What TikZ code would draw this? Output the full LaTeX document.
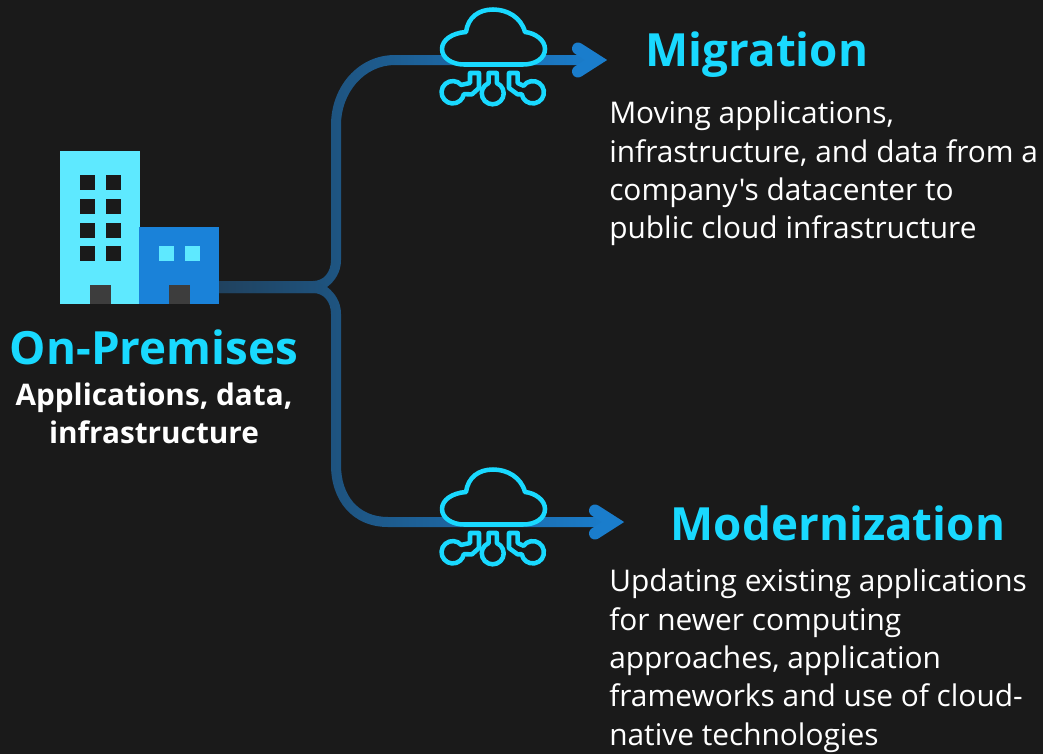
\documentclass[tikz,border=0pt]{standalone}
\usepackage{fontspec}
\setmainfont{Open Sans}[Ligatures=TeXOff]
\definecolor{pagebg}{HTML}{1A1A1A}
\definecolor{towercyan}{HTML}{5EE9FF}
\definecolor{officeblue}{HTML}{1A82D9}
\definecolor{doorgrey}{HTML}{3D3D3D}
\definecolor{headcyan}{HTML}{19D9FF}
\definecolor{stemblue}{HTML}{20425F}
\definecolor{arrowblue}{HTML}{1A7DCC}
\tikzset{
  headtext/.style={anchor=base,inner sep=0.75pt,text=headcyan,font=\fontsize{34.3}{40}\selectfont\bfseries},
  bodytext/.style={anchor=north west,inner sep=0.75pt,align=left,text=white,font=\fontsize{22.4}{28.7}\selectfont},
  subtext/.style={anchor=center,inner sep=0.75pt,align=center,text=white,font=\fontsize{22.3}{28.5}\selectfont\bfseries},
  arrowhead/.style={draw=arrowblue,line width=9pt,line cap=round,miter limit=10},
  iconline/.style={draw=headcyan,line width=3.4pt,line join=round},
}

\begin{document}
\begin{tikzpicture}[x=0.75pt,y=0.75pt,yscale=-1,xscale=1]

%Shape: Rectangle [background]
\fill [pagebg] (0,0) rectangle (1043,754) ;
\useasboundingbox (0,0) rectangle (1043,754) ;

%Shape: Polygon [upper branch]
\shade [left color=stemblue,right color=arrowblue] (219,281) -- (313,281) .. controls (324,281) and (331,272) .. (331,260) -- (331,125) .. controls (331,87) and (358,55) .. (395,55) -- (595,55) -- (595,65) -- (395,65) .. controls (364,65) and (341,93) .. (341,125) -- (341,260) .. controls (341,272) and (335,281) .. (327,287) -- (315,293) -- (219,293) -- cycle ;
%Shape: Polygon [lower branch]
\shade [left color=stemblue,right color=arrowblue] (219,281) -- (315,281) -- (327,287) .. controls (335,293) and (341,302) .. (341,314) -- (341,465) .. controls (341,495) and (358,517) .. (388,517) -- (612,517) -- (612,527) -- (388,527) .. controls (352,527) and (331,500) .. (331,465) -- (331,314) .. controls (331,302) and (324,293) .. (313,293) -- (219,293) -- cycle ;

\coordinate (upperback1) at (578,48.5) ;
\coordinate (uppertip) at (596,60) ;
\coordinate (upperback2) at (578,71.5) ;
\coordinate (lowerback1) at (595,510.5) ;
\coordinate (lowertip) at (613,522) ;
\coordinate (lowerback2) at (595,533.5) ;
%Arrow heads
\draw [arrowhead] (upperback1) -- (uppertip) -- (upperback2) ;
\draw [arrowhead] (lowerback1) -- (lowertip) -- (lowerback2) ;

%Clouds
\foreach \dy in {0,460} {
\begin{scope}[shift={(0,\dy)}]
  %Shape: Cloud
  \draw[iconline,fill=pagebg] (464,64.5) -- (523,64.5) .. controls (536,64.5) and (545,58) .. (545,49) .. controls (545,40) and (535,33) .. (525,32) .. controls (521,17) and (507,9.5) .. (493,9.5) .. controls (479,9.5) and (468,17) .. (466,32) .. controls (452,33) and (442,40) .. (442,49) .. controls (442,58) and (452,64.5) .. (464,64.5) -- cycle ;
  %Shape: Left circuit
  \draw[iconline] (470,73) -- (470,83) -- (461.2,84.9) arc [start angle=-41,delta angle=-309,radius=11.2] -- (472,94.3) -- (479,88) -- (479,73) -- cycle ;
  %Shape: Middle circuit
  \draw[iconline] (488.6,73) -- (488.6,83.1) arc [start angle=-112,delta angle=-316,radius=11] -- (496.8,73) -- cycle ;
  %Shape: Right circuit
  \draw[iconline] (509,73) -- (509,88) -- (517.5,94.3) -- (521.7,94.2) arc [start angle=170,delta angle=-315,radius=11.2] -- (517.7,83) -- (517.7,73) -- cycle ;
\end{scope}
}

%Shape: Rectangle [tower]
\fill [towercyan] (60,151) rectangle (140,304) ;
%Shape: Rectangle [office]
\fill [officeblue] (139,227) rectangle (219,304) ;
%Windows
\foreach \y in {175,199,223,246} {
  \fill [pagebg] (80,\y) rectangle +(15,15) ;
  \fill [pagebg] (106,\y) rectangle +(15,15) ;
}
\fill [towercyan] (159,246) rectangle +(15,15) ;
\fill [towercyan] (185,246) rectangle +(15,15) ;
%Doors
\fill [doorgrey] (90,285) rectangle (111,304) ;
\fill [doorgrey] (169,285) rectangle (190,304) ;

% Text Node
\draw (757,66) node (migration) [headtext] {Migration};
% Text Node
\draw (608,100) node (migrationtext) [bodytext] {Moving applications,\\infrastructure, and data from a\\company's datacenter to\\public cloud infrastructure};
% Text Node
\draw (838,540) node (modernization) [headtext] {Modernization};
% Text Node
\draw (608,568) node (modernizationtext) [bodytext] {Updating existing applications\\for newer computing\\approaches, application\\frameworks and use of cloud-\\native technologies};
% Text Node
\draw (154,364) node (onpremises) [headtext] {On-Premises};
% Text Node
\draw (154,413) node (onpremisestext) [subtext] {Applications, data,\\infrastructure};

\end{tikzpicture}
\end{document}
